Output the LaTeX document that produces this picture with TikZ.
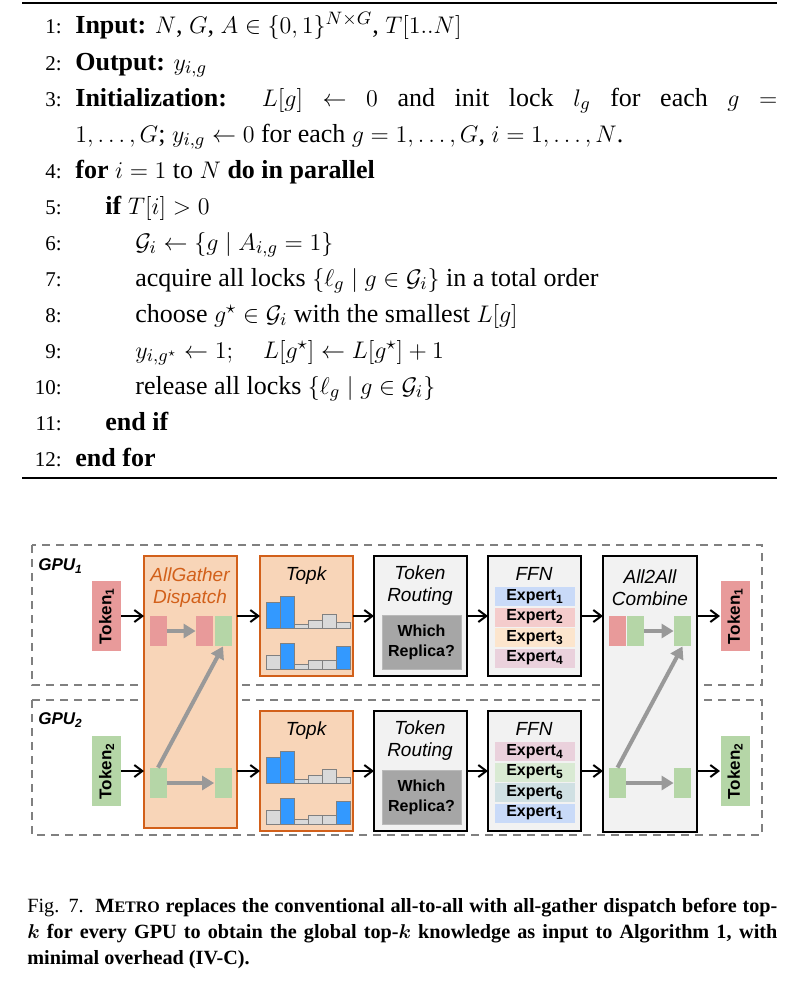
\documentclass[tikz,border=0pt]{standalone}
\usepackage{fontspec}
\setmainfont{Liberation Serif}
\newfontfamily\dsans{Liberation Sans}
\usetikzlibrary{arrows.meta}
\definecolor{tokred}{HTML}{E89A9A}
\definecolor{tokgrn}{HTML}{B5D6A7}
\definecolor{orfill}{HTML}{F8D5B8}
\definecolor{ordraw}{HTML}{D2601A}
\definecolor{barblue}{HTML}{3399FF}
\definecolor{bargray}{HTML}{D9D9D9}
\definecolor{eone}{HTML}{C9DAF8}
\definecolor{etwo}{HTML}{F4CCCC}
\definecolor{ethree}{HTML}{FCE5CD}
\definecolor{efour}{HTML}{EAD1DC}
\definecolor{efive}{HTML}{D9EAD3}
\definecolor{esix}{HTML}{D0E0E3}
\begin{document}
\begin{tikzpicture}[x=0.5pt,y=-0.5pt,
  num/.style={anchor=base east,font=\fontsize{10.5}{12}\selectfont,inner sep=0pt},
  ln/.style={anchor=base west,font=\fontsize{13}{15}\selectfont,inner sep=0pt},
  gpu/.style={draw=gray,dashed,line width=0.6pt,dash pattern=on 4pt off 3pt},
  orbox/.style={draw=ordraw,fill=orfill,line width=1pt},
  gbox/.style={draw=black,fill=black!5,line width=1.2pt},
  tok/.style={inner sep=0pt,font=\dsans\bfseries\fontsize{8.5}{9}\selectfont},
  ttl/.style={font=\dsans\itshape\fontsize{9.5}{11}\selectfont,align=center,inner sep=0pt},
  exp/.style={inner sep=0pt,font=\dsans\bfseries\fontsize{8}{9}\selectfont},
  flow/.style={-{Straight Barb[length=4pt,width=6pt]},line width=1pt},
  garr/.style={-{Triangle[length=6pt,width=7pt]},draw=gray!80,line width=2pt},
  bar/.style={draw=gray,line width=0.5pt},
]
\useasboundingbox (0,0) rectangle (797,1003);
% ---------- algorithm ----------
\draw[line width=0.6pt] (22,3) -- (777,3);
\draw[line width=0.6pt] (22,478) -- (777,478);
\foreach \n/\y in {1/33,2/70,3/106,4/178,5/214,6/250,7/286,8/322,9/358,10/394,11/430,12/466}
  \node[num] (n\n) at (62,\y) {\n:};
\node[ln] (l1) at (75,33) {\textbf{Input:} $N$, $G$, $A\in\{0,1\}^{N\times G}$, $T[1..N]$};
\node[ln] (l2) at (75,70) {\textbf{Output:} $y_{i,g}$};
\node[ln] (l3) at (75,106) {\makebox[351pt][s]{\textbf{Initialization:} $L[g]$ $\leftarrow$ $0$ and init lock $l_g$ for each $g$ $=$}};
\node[ln] (l3b) at (75,142) {$1,\ldots,G$; $y_{i,g}\leftarrow 0$ for each $g=1,\ldots,G$, $i=1,\ldots,N$.};
\node[ln] (l4) at (75,178) {\textbf{for} $i=1$ to $N$ \textbf{do in parallel}};
\node[ln] (l5) at (105,214) {\textbf{if} $T[i]>0$};
\node[ln] (l6) at (135,250) {$\mathcal{G}_i\leftarrow\{g\mid A_{i,g}=1\}$};
\node[ln] (l7) at (135,286) {acquire all locks $\{\ell_g\mid g\in\mathcal{G}_i\}$ in a total order};
\node[ln] (l8) at (135,322) {choose $g^\star\in\mathcal{G}_i$ with the smallest $L[g]$};
\node[ln] (l9) at (135,358) {$y_{i,g^\star}\leftarrow 1;\quad L[g^\star]\leftarrow L[g^\star]+1$};
\node[ln] (l10) at (135,394) {release all locks $\{\ell_g\mid g\in\mathcal{G}_i\}$};
\node[ln] (l11) at (105,430) {\textbf{end if}};
\node[ln] (l12) at (75,466) {\textbf{end for}};
% ---------- diagram ----------
\draw[gpu] (32,545) rectangle (762,685);
\draw[gpu] (32,700) rectangle (762,835);
\node[anchor=west,inner sep=0pt,font=\dsans\bfseries\itshape\fontsize{8.5}{9}\selectfont] (g1) at (38,566) {GPU\textsubscript{1}};
\node[anchor=west,inner sep=0pt,font=\dsans\bfseries\itshape\fontsize{8.5}{9}\selectfont] (g2) at (38,720) {GPU\textsubscript{2}};
% boxes
\draw[orbox] (144,556) rectangle (237,828);
\node[ttl,text=ordraw] (agt) at (190,588) {AllGather\\Dispatch};
\foreach \yy/\nm in {556/ta,711/tb}{
  \draw[orbox] (260,\yy) rectangle (353,\yy+120);
  \node[ttl] (\nm) at (306,\yy+20) {Topk};
  \draw[gbox] (374,\yy) rectangle (467,\yy+120);
  \node[ttl] at (420,\yy+30) {Token\\Routing};
  \node[fill=gray!70,draw=gray!55,line width=0.5pt,minimum width=39.5pt,minimum height=27pt,inner sep=0pt,align=center,font=\dsans\bfseries\fontsize{8}{10}\selectfont] at (421.5,\yy+86) {Which\\Replica?};
  \draw[gbox] (488,\yy) rectangle (581,\yy+120);
  \node[ttl] at (534,\yy+18) {FFN};
}
\draw[gbox] (603,556) rectangle (697,832);
\node[ttl] (cmb) at (650,588) {All2All\\Combine};
% bars
\foreach \base/\hs in {628/{26,32,4,8,14,6},669/{14,26,5,9,9,23}}{
  \foreach \h [count=\i from 0] in \hs {
    \pgfmathsetmacro\xl{266+14*\i}
    \ifnum\i=1 \def\bc{barblue}\else\def\bc{bargray}\fi
    \ifnum\base=628 \ifnum\i=0 \def\bc{barblue}\fi\fi
    \ifnum\base=669 \ifnum\i=5 \def\bc{barblue}\fi\fi
    \draw[bar,fill=\bc] (\xl,\base) rectangle ++(14,-\h);
    \draw[bar,fill=\bc] (\xl,\base+155) rectangle ++(14,-\h);
  }
}
% experts
\foreach \c/\k [count=\j from 0] in {eone/1,etwo/2,ethree/3,efour/4}
  \node[exp,fill=\c,minimum width=40pt,minimum height=9.5pt] (ea\k) at (535,596.5+20.5*\j) {Expert\textsubscript{\k}};
\foreach \c/\k [count=\j from 0] in {efour/4,efive/5,esix/6,eone/1}
  \node[exp,fill=\c,minimum width=40pt,minimum height=9.5pt] (eb\k) at (535,751.5+20.5*\j) {Expert\textsubscript{\k}};
% tokens
\node[tok,fill=tokred,minimum width=35pt,minimum height=14.5pt,rotate=90] (t1) at (106.5,616) {Token\textsubscript{1}};
\node[tok,fill=tokgrn,minimum width=35pt,minimum height=14.5pt,rotate=90] (t2) at (106.5,771) {Token\textsubscript{2}};
\node[tok,fill=tokred,minimum width=35pt,minimum height=14.5pt,rotate=90] (t3) at (735,616) {Token\textsubscript{1}};
\node[tok,fill=tokgrn,minimum width=35pt,minimum height=14.5pt,rotate=90] (t4) at (735,771) {Token\textsubscript{2}};
% small data blocks
\tikzset{blk/.style={minimum width=8.5pt,minimum height=15pt,inner sep=0pt}}
\node[blk,fill=tokred] (a1) at (158,631) {};
\node[blk,fill=tokred] (a2) at (204.5,631) {};
\node[blk,fill=tokgrn] (a3) at (223,631) {};
\node[blk,fill=tokgrn] (a4) at (158,783) {};
\node[blk,fill=tokgrn] (a5) at (223,783) {};
\node[blk,fill=tokred] (c1) at (617.5,631) {};
\node[blk,fill=tokgrn] (c2) at (635.5,631) {};
\node[blk,fill=tokgrn] (c3) at (682.5,631) {};
\node[blk,fill=tokgrn] (c4) at (617.5,783) {};
\node[blk,fill=tokgrn] (c5) at (682.5,783) {};
\draw[garr] (a1) -- (a2);
\draw[garr] (a4) -- (a5);
\draw[garr] (a4.north) -- (a3.south);
\draw[garr] (c2) -- (c3);
\draw[garr] (c4) -- (c5);
\draw[garr] (c4.north) -- (c3.south);
% flow arrows
\foreach \y in {616,771}{
  \draw[flow] (121,\y) -- (144,\y);
  \draw[flow] (237,\y) -- (260,\y);
  \draw[flow] (353,\y) -- (374,\y);
  \draw[flow] (467,\y) -- (488,\y);
  \draw[flow] (581,\y) -- (603,\y);
  \draw[flow] (697,\y) -- (720,\y);
}
% ---------- caption ----------
\node[anchor=north west,inner sep=0pt,text width=375pt,align=justify,font=\fontsize{10.1}{13}\selectfont] (cap) at (27,898)
 {Fig. 7.\ \ \textbf{\boldmath M{\fontsize{8}{13}\selectfont ETRO} replaces the conventional all-to-all with all-gather dispatch before top-$k$ for every GPU to obtain the global top-$k$ knowledge as input to Algorithm 1, with minimal overhead (IV-C).}};
\end{tikzpicture}
\end{document}
